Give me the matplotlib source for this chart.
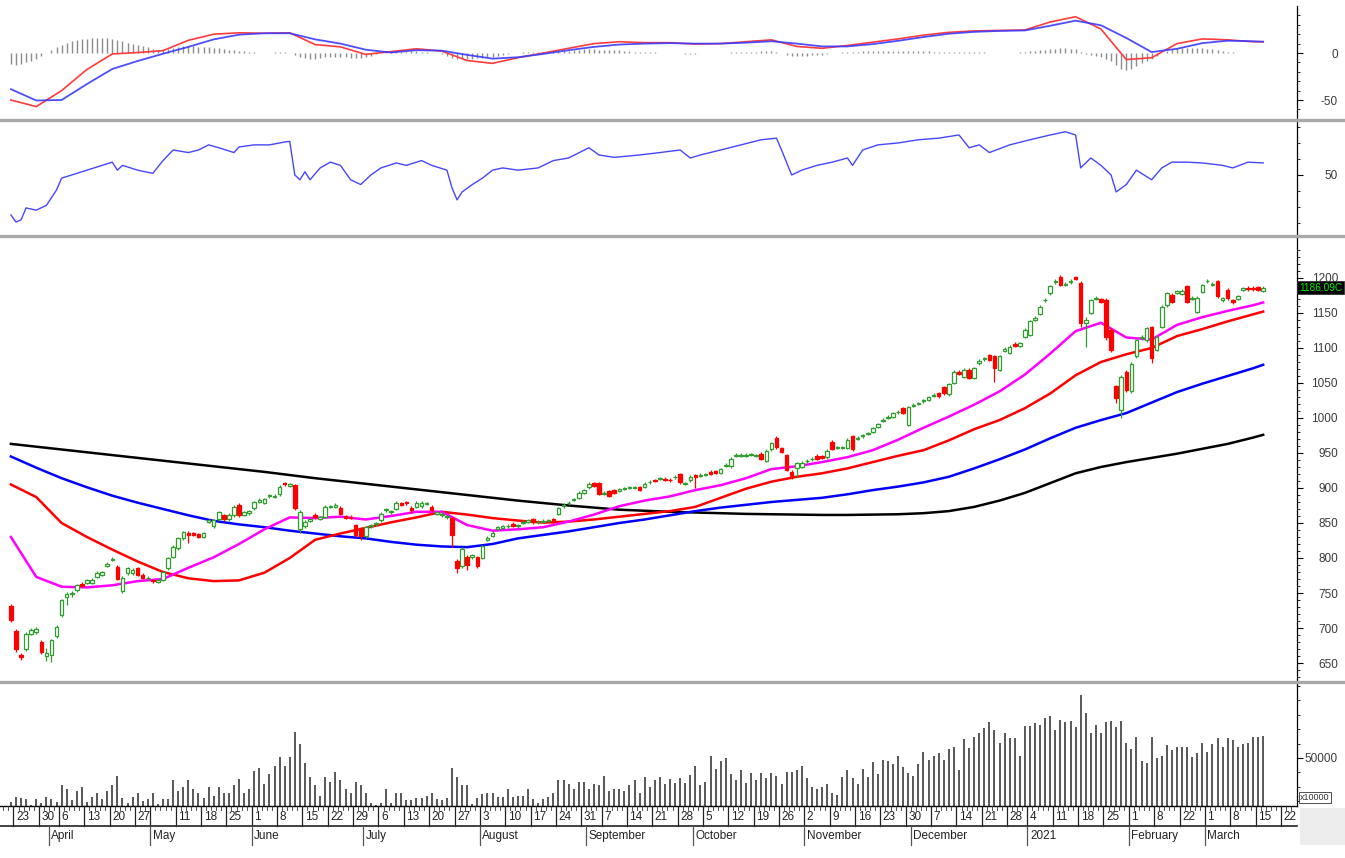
import numpy as np
import pandas as pd
import matplotlib
matplotlib.use("Agg")
import matplotlib.pyplot as plt
from matplotlib.lines import Line2D
from matplotlib.patches import Rectangle
from matplotlib.transforms import blended_transform_factory
from matplotlib import font_manager
from matplotlib.ticker import FixedLocator, FixedFormatter, NullFormatter

avail = {f.name for f in font_manager.fontManager.ttflist}
FAM = [f for f in ['Liberation Sans Narrow', 'Liberation Sans', 'DejaVu Sans'] if f in avail]
plt.rcParams['font.family'] = FAM

# ---------------- calendar ----------------
holidays = ['2020-04-02', '2020-04-30', '2020-05-01', '2020-09-02', '2021-01-01',
            '2021-02-10', '2021-02-11', '2021-02-12', '2021-02-15', '2021-02-16']
cal = pd.bdate_range('2020-03-20', '2021-03-26')
cal = cal[~cal.isin(pd.to_datetime(holidays))]

week_dates = ['2020-03-23', '2020-03-30', '2020-04-06', '2020-04-13', '2020-04-20', '2020-04-27',
              '2020-05-04', '2020-05-11', '2020-05-18', '2020-05-25', '2020-06-01', '2020-06-08',
              '2020-06-15', '2020-06-22', '2020-06-29', '2020-07-06', '2020-07-13', '2020-07-20',
              '2020-07-27', '2020-08-03', '2020-08-10', '2020-08-17', '2020-08-24', '2020-08-31',
              '2020-09-07', '2020-09-14', '2020-09-21', '2020-09-28', '2020-10-05', '2020-10-12',
              '2020-10-19', '2020-10-26', '2020-11-02', '2020-11-09', '2020-11-16', '2020-11-23',
              '2020-11-30', '2020-12-07', '2020-12-14', '2020-12-21', '2020-12-28', '2021-01-04',
              '2021-01-11', '2021-01-18', '2021-01-25', '2021-02-01', '2021-02-08', '2021-02-22',
              '2021-03-01', '2021-03-08', '2021-03-15', '2021-03-22']
week_texts = ['23', '30', '6', '13', '20', '27', '', '11', '18', '25', '1', '8', '15', '22', '29',
              '6', '13', '20', '27', '3', '10', '17', '24', '31', '7', '14', '21', '28', '5', '12',
              '19', '26', '2', '9', '16', '23', '30', '7', '14', '21', '28', '4', '11', '18', '25',
              '1', '8', '22', '1', '8', '15', '22']
month_dates = ['2020-04-01', '2020-05-04', '2020-06-01', '2020-07-01', '2020-08-03', '2020-09-01',
               '2020-10-01', '2020-11-02', '2020-12-01', '2021-01-04', '2021-02-01', '2021-03-01']
month_texts = ['April', 'May', 'June', 'July', 'August', 'September', 'October', 'November',
               'December', '2021', 'February', 'March']

# ---------------- daily OHLC ----------------
opens = [732, 696, 662, 670, 692, 695, 680, 660, 662, 688,
         718, 745, 748, 754, 763, 765, 765, 773, 776, 789,
         797, 787, 753, 778, 778, 785, 776, 771, 768, 766,
         769, 785, 802, 814, 828, 835, 835, 834, 830, 852,
         845, 855, 861, 855, 861, 876, 862, 864, 871, 880,
         879, 888, 887, 891, 907, 903, 904, 842, 845, 853,
         862, 856, 859, 873, 873, 872, 860, 859, 847, 842,
         831, 845, 848, 854, 868, 865, 870, 878, 880, 872,
         873, 874, 877, 873, 863, 861, 858, 857, 796, 788,
         802, 801, 801, 800, 826, 832, 842, 843, 845, 849,
         845, 850, 852, 855, 851, 852, 853, 855, 863, 874,
         878, 883, 886, 893, 901, 907, 907, 892, 895, 897,
         896, 899, 900, 900, 901, 902, 908, 911, 913, 913,
         912, 915, 920, 906, 911, 918, 917, 919, 923, 924,
         922, 932, 931, 946, 946, 946, 947, 946, 949, 939,
         955, 972, 957, 947, 923, 928, 930, 938, 941, 946,
         945, 944, 966, 957, 957, 957, 974, 970, 974, 977,
         980, 987, 996, 1000, 1002, 1008, 1014, 990, 1017, 1020,
         1024, 1026, 1032, 1035, 1044, 1034, 1050, 1066, 1059, 1069,
         1057, 1078, 1084, 1090, 1088, 1069, 1096, 1093, 1106, 1103,
         1116, 1119, 1140, 1149, 1168, 1178, 1194, 1202, 1190, 1194,
         1201, 1193, 1136, 1150, 1170, 1170, 1169, 1126, 1045, 1011,
         1066, 1038, 1088, 1114, 1111, 1130, 1097, 1130, 1161, 1176,
         1179, 1177, 1188, 1170, 1152, 1180, 1195, 1190, 1195, 1168,
         1183, 1168, 1170, 1183, 1186, 1186, 1187, 1182]
closes = [712, 670, 659, 692, 697, 698, 666, 664, 683, 702,
          740, 749, 750, 761, 760, 768, 768, 779, 780, 791,
          798, 770, 772, 785, 783, 776, 772, 772, 767, 768,
          780, 800, 816, 828, 837, 833, 833, 830, 835, 854,
          854, 865, 855, 862, 873, 861, 865, 867, 880, 883,
          884, 890, 889, 902, 905, 905, 872, 866, 852, 855,
          858, 858, 873, 874, 875, 863, 857, 857, 833, 831,
          844, 847, 850, 863, 870, 867, 879, 876, 878, 869,
          879, 879, 878, 868, 865, 863, 860, 833, 786, 813,
          790, 804, 788, 817, 829, 836, 844, 845, 846, 846,
          847, 852, 854, 851, 852, 853, 854, 852, 871, 876,
          879, 884, 893, 897, 906, 903, 892, 893, 889, 893,
          898, 900, 901, 901, 897, 906, 909, 910, 914, 912,
          911, 916, 908, 907, 916, 916, 919, 920, 920, 922,
          927, 933, 942, 947, 947, 947, 948, 947, 942, 953,
          964, 958, 952, 926, 917, 935, 936, 939, 942, 942,
          943, 953, 956, 958, 958, 969, 955, 972, 975, 978,
          985, 991, 997, 1001, 1007, 1009, 1007, 1015, 1019, 1021,
          1025, 1030, 1033, 1031, 1035, 1048, 1066, 1063, 1069, 1057,
          1071, 1082, 1085, 1083, 1071, 1088, 1099, 1102, 1103, 1107,
          1126, 1138, 1143, 1159, 1169, 1188, 1195, 1190, 1191, 1196,
          1199, 1135, 1140, 1168, 1171, 1166, 1116, 1097, 1028, 1059,
          1040, 1077, 1111, 1116, 1128, 1085, 1116, 1159, 1178, 1166,
          1181, 1182, 1166, 1172, 1172, 1190, 1196, 1192, 1174, 1171,
          1171, 1165, 1174, 1185, 1184, 1184, 1183, 1186.09]
highs = [735, 698, 664, 694, 700, 702, 683, 672, 685, 704,
         742, 752, 753, 763, 766, 770, 771, 781, 782, 794,
         802, 790, 775, 787, 785, 787, 778, 774, 770, 770,
         782, 802, 818, 830, 839, 838, 837, 836, 837, 856,
         856, 867, 863, 864, 875, 878, 867, 869, 882, 885,
         886, 892, 891, 904, 909, 907, 906, 868, 854, 857,
         864, 860, 875, 876, 878, 874, 862, 861, 849, 844,
         846, 849, 852, 865, 872, 869, 881, 880, 882, 874,
         881, 881, 880, 875, 867, 865, 862, 859, 798, 815,
         804, 806, 803, 819, 831, 838, 846, 847, 848, 851,
         849, 854, 856, 857, 854, 855, 856, 857, 873, 878,
         881, 886, 895, 899, 908, 909, 909, 895, 897, 899,
         900, 902, 903, 903, 903, 908, 911, 913, 916, 915,
         914, 918, 922, 909, 918, 920, 921, 922, 925, 926,
         929, 935, 944, 950, 950, 950, 950, 949, 951, 955,
         966, 974, 959, 949, 925, 937, 938, 941, 944, 948,
         947, 955, 968, 960, 960, 971, 976, 974, 977, 980,
         987, 993, 1000, 1004, 1009, 1011, 1016, 1017, 1021, 1023,
         1027, 1032, 1035, 1037, 1046, 1050, 1068, 1068, 1071, 1071,
         1073, 1084, 1087, 1092, 1090, 1090, 1101, 1104, 1108, 1109,
         1128, 1140, 1146, 1161, 1171, 1190, 1198, 1204, 1194, 1198,
         1203, 1196, 1144, 1170, 1174, 1172, 1171, 1128, 1047, 1062,
         1069, 1080, 1113, 1118, 1130, 1132, 1118, 1161, 1180, 1178,
         1183, 1184, 1190, 1174, 1174, 1192, 1199, 1194, 1197, 1173,
         1185, 1170, 1176, 1187, 1188, 1188, 1189, 1188]
lows = [708, 666, 654, 667, 690, 692, 663, 653, 652, 686,
        716, 733, 745, 752, 758, 763, 763, 771, 774, 787,
        795, 768, 750, 776, 776, 774, 770, 769, 765, 764,
        767, 783, 800, 812, 826, 822, 831, 828, 828, 850,
        843, 853, 853, 853, 859, 859, 860, 862, 869, 878,
        877, 886, 885, 889, 903, 901, 868, 836, 843, 851,
        856, 854, 857, 871, 871, 861, 855, 855, 830, 826,
        829, 843, 846, 852, 866, 863, 868, 874, 876, 864,
        871, 872, 875, 866, 861, 859, 856, 816, 779, 786,
        783, 799, 786, 798, 824, 830, 840, 841, 843, 844,
        843, 848, 850, 849, 849, 850, 851, 850, 861, 872,
        876, 881, 884, 891, 899, 901, 890, 890, 887, 891,
        894, 897, 898, 898, 895, 900, 906, 908, 911, 910,
        909, 913, 906, 904, 909, 900, 915, 917, 918, 920,
        920, 930, 929, 944, 944, 944, 945, 944, 940, 937,
        953, 956, 950, 924, 913, 916, 928, 936, 939, 940,
        941, 942, 954, 955, 955, 955, 953, 968, 972, 975,
        978, 985, 994, 998, 1000, 1006, 1005, 988, 1015, 1018,
        1022, 1024, 1030, 1029, 1033, 1032, 1048, 1061, 1057, 1055,
        1055, 1076, 1082, 1081, 1052, 1067, 1094, 1091, 1101, 1101,
        1114, 1117, 1138, 1147, 1166, 1176, 1192, 1188, 1188, 1192,
        1197, 1130, 1102, 1148, 1168, 1164, 1112, 1094, 1022, 1000,
        1037, 1036, 1086, 1112, 1109, 1078, 1095, 1128, 1159, 1164,
        1177, 1175, 1164, 1168, 1150, 1178, 1193, 1188, 1172, 1166,
        1169, 1163, 1168, 1181, 1182, 1182, 1181, 1180]

# volume (x10000)
volume = [4500, 9000, 8000, 7000, 1000, 7000, 3500, 9700, 7000, 4500,
          21500, 17400, 6250, 15600, 19400, 4500, 9700, 13200, 7000, 16000,
          21500, 31250, 8700, 2800, 9700, 13200, 5000, 7300, 13200, 2000,
          7000, 7000, 26700, 15600, 19400, 26700, 17400, 13900, 8700, 19400,
          10400, 20100, 13900, 13900, 21500, 28500, 13200, 18000, 36500, 40000,
          23300, 33300, 41700, 50700, 41700, 50700, 77400, 64600, 45100, 30600,
          21500, 10400, 30600, 25400, 35800, 26700, 17400, 13900, 25400, 21500,
          13200, 2800, 1000, 2800, 18000, 2800, 13900, 13200, 6250, 6250,
          8000, 8000, 10400, 13200, 7000, 6250, 8000, 39600, 30600, 21500,
          21500, 2000, 8000, 12200, 13200, 13900, 9700, 9700, 17400, 9700,
          10400, 10400, 17400, 7000, 3500, 7000, 9700, 13900, 27100, 26700,
          23300, 17400, 25400, 25400, 17400, 23300, 22200, 31600, 15600, 18000,
          18000, 15600, 22200, 27100, 13900, 30600, 20100, 27100, 30600, 22900,
          28100, 24300, 28800, 24300, 32300, 41700, 21500, 25400, 52100, 38200,
          47200, 50300, 33300, 27100, 37500, 24300, 34000, 27300, 34000, 28800,
          34000, 31250, 22900, 35400, 35800, 37500, 41700, 28800, 20100, 17400,
          20100, 22900, 13900, 11500, 30600, 37500, 28800, 22900, 38200, 30600,
          46200, 33300, 47900, 47200, 43700, 52100, 40300, 34000, 31250, 43400,
          56600, 47900, 52100, 55600, 47900, 59000, 61800, 37500, 69500, 59900,
          72200, 75700, 80900, 87800, 79200, 65300, 75700, 70500, 70500, 52100,
          83300, 83300, 86100, 84400, 91300, 93800, 79200, 89600, 87800, 88900,
          82600, 115600, 97200, 76400, 84400, 76400, 87800, 88900, 82200, 88900,
          65300, 59000, 72200, 46900, 44400, 72200, 49700, 52100, 63500, 58300,
          61800, 61800, 61800, 50700, 54900, 65300, 56600, 64600, 71200, 61800,
          71200, 68800, 61800, 64600, 65300, 72200, 71500, 72900]

# ---------------- moving averages (every 5 sessions) ----------------
ma_idx = list(range(0, 246, 5)) + [247]
ma20 = [830, 773, 759, 758, 761, 767, 770, 786, 801, 820,
        841, 858, 857, 859, 855, 860, 866, 866, 847, 839,
        841, 844, 852, 862, 874, 882, 888, 897, 904, 914,
        927, 931, 937, 944, 954, 969, 986, 1002, 1019, 1038,
        1062, 1092, 1124, 1136, 1115, 1112, 1133, 1144, 1153, 1161, 1165]
ma50 = [905, 887, 850, 830, 812, 795, 780, 771, 767, 768,
        779, 800, 826, 835, 843, 851, 858, 866, 862, 857,
        853.5, 850.5, 852, 855, 859, 863, 867, 873, 886, 899,
        909, 916, 921, 928, 937, 946, 954, 968, 984, 997,
        1014, 1035, 1061, 1080, 1091, 1100, 1117, 1127, 1138, 1148, 1152]
ma100 = [945, 929, 914, 901, 889, 879, 870, 861, 853, 848,
         844, 839, 835, 831, 828, 823, 819, 816.5, 815.5, 820,
         828, 833, 838, 844, 850, 855, 861, 867, 872, 876,
         880, 883, 886, 891, 897, 902, 908, 916, 928, 941,
         955, 971, 986, 997, 1007, 1022, 1037, 1049, 1060, 1071, 1076]
ma200 = [963, 959, 955, 951, 947, 943, 939, 935, 931, 927,
         923, 918.5, 914, 910, 906, 902, 898, 894, 890, 886,
         882, 878.5, 875, 872, 869, 867.5, 866, 865, 864, 863,
         862.5, 862, 861.5, 861.5, 862, 862.5, 864, 867, 873, 882,
         893, 907, 921, 930, 937, 943, 949, 956, 963, 972, 976]

# ---------------- MACD ----------------
macd_line = [-50, -57, -40, -17.5, -1, 0.5, 2.5, 13.5, 20, 21.5,
             21, 21.5, 9, 6.5, -1.5, 1.5, 4.5, 2, -8, -11,
             -5, 0, 5, 10, 12, 11, 11, 9.5, 10, 12,
             14, 7, 5, 8, 11.5, 15, 19, 22, 23.5, 24,
             24.5, 33, 38.6, 25.5, -7, -5, 10, 15, 14, 12, 12]
macd_signal = [-38.5, -50.5, -50, -33, -17, -8.5, -0.8, 6.5, 14.5, 19.5,
               21, 21, 14.5, 10, 3.5, 0.5, 3, 2.5, -2, -6,
               -4.5, -1, 3, 6.5, 9, 10, 10.5, 10, 10, 11,
               12.5, 10, 7, 7, 9.5, 13, 17, 20.5, 22.5, 23.5,
               24, 29, 34.4, 29.5, 16, 1, 4.5, 10.5, 13.1, 12.5, 12]
macd_hist = [-12, -13, -12, -10, -8, -6, -3, 0, 3, 6,
             9, 11, 13, 14, 15, 15, 16, 16, 16, 16,
             15, 14, 13, 11, 10, 9, 7, 6, 4, 3,
             3, 4, 5, 6, 7, 7, 7, 6, 6, 6,
             5, 5, 4, 3, 3, 2, 2, 1, 1, 0,
             0, 0, 1, 1, 1, 0, -2, -4, -5, -6,
             -6, -5, -4, -4, -4, -4, -4, -5, -5, -5,
             -4, -3, -1, 0, 1, 1, 1, 1, 1, 2,
             2, 1, 1, 0, 0, -1, -3, -5, -6, -6,
             -6, -6, -5, -5, -4, -4, -3, -2, -1, 0,
             0, 1, 1, 1, 1, 1, 1, 2, 2, 2,
             2, 3, 3, 4, 4, 4, 3, 3, 3, 3,
             3, 2, 2, 1, 1, 1, 1, 1, 0, 0,
             0, 0, 0, -1, -1, -1, 0, 0, 0, 0,
             0, 0, 1, 1, 1, 1, 1, 1, 2, 2,
             2, 1, 0, -2, -3, -3, -3, -3, -2, -2,
             -2, -1, 0, 0, 1, 1, 1, 1, 2, 2,
             2, 2, 2, 2, 2, 2, 2, 2, 2, 2,
             2, 2, 1, 1, 1, 1, 1, 1, 1, 1,
             1, 1, 1, 0, 0, 0, 0, 0, 0, 1,
             1, 2, 2, 3, 3, 4, 4, 5, 5, 4,
             4, 1, -1, -2, -3, -4, -6, -9, -13, -17,
             -18, -17, -14, -11, -8, -6, -3, 0, 2, 4,
             5, 5, 5, 5, 5, 5, 4, 4, 3, 2,
             1, 1, 0, 0, 0, 0, 0, 0]

# ---------------- RSI ----------------
rsi_idx = [0, 1, 2, 3, 5, 7, 9, 10, 12, 14, 16, 18, 20, 21, 22, 25, 28, 30, 32, 35,
           37, 39, 41, 44, 45, 48, 51, 54, 55, 56, 57, 58, 59, 61, 63, 65, 67, 69, 71, 73,
           76, 78, 81, 83, 86, 87, 88, 89, 91, 93, 95, 97, 100, 104, 107, 110, 114, 116, 119, 124,
           128, 132, 134, 136, 140, 144, 148, 151, 152, 154, 156, 159, 162, 165, 166, 168, 171, 175, 179, 183,
           187, 189, 191, 193, 197, 201, 205, 208, 210, 211, 213, 215, 217, 218, 220, 222, 225, 227, 229, 232,
           235, 239, 241, 244, 247]
rsi_val = [25, 20.6, 21.9, 29.4, 28, 31, 40.6, 48, 50, 52, 54, 56, 58, 53, 56, 53, 51, 59, 65.6, 64,
           65.6, 68.8, 67, 64, 67.5, 68.8, 68.8, 70.6, 71, 50, 47, 52, 47, 54.4, 58, 56, 47, 44, 50, 54.4,
           57.5, 56, 59, 56, 53, 42, 34.4, 39.4, 44, 48, 53, 54.4, 53, 54.4, 59, 60.6, 67, 62.5, 61, 62.5,
           64, 65.6, 60.6, 62.5, 65.6, 68.8, 72, 73, 65.6, 50, 53, 56, 58, 60.6, 56, 65.6, 68.8, 70, 72, 73,
           75, 67, 68.8, 64, 68.8, 72, 75, 77, 75, 54.4, 60.6, 56, 50, 39.4, 44, 53, 47, 54.4, 58, 58,
           57.5, 56, 54.4, 58, 57.5]

# ---------------- figure ----------------
W_PX, H_PX = 1345, 858
fig = plt.figure(figsize=(W_PX / 100, H_PX / 100), dpi=100)
fig.patch.set_facecolor('white')


def fy(py):
    return 1 - py / H_PX


AXW = 1297 / W_PX
ax_macd = fig.add_axes([0, fy(119), AXW, 113 / H_PX])
ax_rsi = fig.add_axes([0, fy(234), AXW, 112 / H_PX])
ax_p = fig.add_axes([0, fy(681), AXW, 443 / H_PX])
ax_v = fig.add_axes([0, fy(806), AXW, 122 / H_PX])

XMIN, XMAX = -2.15, 253.67
idx = np.arange(len(closes))
o = np.array(opens, float)
c = np.array(closes, float)
h = np.array(highs, float)
l = np.array(lows, float)

GREEN = '#2e9e2e'
RED = '#ff0000'

# price panel
ax_p.plot(ma_idx, ma200, color='black', lw=1.8, zorder=2, solid_joinstyle='round')
ax_p.plot(ma_idx, ma100, color='#0000ff', lw=1.8, zorder=2, solid_joinstyle='round')
ax_p.plot(ma_idx, ma50, color='#ff0000', lw=1.8, zorder=2, solid_joinstyle='round')
ax_p.plot(ma_idx, ma20, color='#ff00ff', lw=1.8, zorder=2, solid_joinstyle='round')

up = c >= o
wick_col = np.where(up, GREEN, RED)
ax_p.vlines(idx, l, h, colors=wick_col, lw=0.9, zorder=3)
blo = np.minimum(o, c)
bh = np.maximum(np.abs(c - o), 1.0)
ax_p.bar(idx[up], bh[up], bottom=blo[up], width=0.7, facecolor='white',
         edgecolor=GREEN, linewidth=0.9, zorder=4)
ax_p.bar(idx[~up], bh[~up], bottom=blo[~up], width=0.7, facecolor=RED,
         edgecolor=RED, linewidth=0.9, zorder=4)

# volume
ax_v.vlines(idx, 0, volume, color='#4a4a4a', lw=1.3)

# MACD
ax_macd.vlines(idx, 0, macd_hist, color='#8c8c8c', lw=1.0)
ax_macd.plot(ma_idx, macd_line, color='#ff3b3b', lw=1.2)
ax_macd.plot(ma_idx, macd_signal, color='#3b3bff', lw=1.3, alpha=0.9)

# RSI
ax_rsi.plot(rsi_idx, rsi_val, color='#4646ff', lw=1.0)


def style(ax, ylim, majors, labels, minors):
    ax.set_xlim(XMIN, XMAX)
    ax.set_ylim(*ylim)
    ax.set_facecolor('white')
    for s in ['left', 'top', 'bottom']:
        ax.spines[s].set_visible(False)
    ax.spines['right'].set_color('black')
    ax.spines['right'].set_linewidth(0.9)
    ax.set_xticks([])
    ax.yaxis.tick_right()
    ax.yaxis.set_major_locator(FixedLocator(majors))
    ax.yaxis.set_major_formatter(FixedFormatter(labels))
    ax.yaxis.set_minor_locator(FixedLocator(minors))
    ax.yaxis.set_minor_formatter(NullFormatter())
    ax.tick_params(axis='y', which='major', direction='out', length=4.5, width=0.8,
                   color='black', labelcolor='#3a3a3a', labelsize=8.5, pad=25)
    ax.tick_params(axis='y', which='minor', direction='out', length=2.2, width=0.6, color='black')
    for t in ax.get_yticklabels():
        t.set_horizontalalignment('right')


p_major = list(range(650, 1201, 50))
style(ax_p, (624.3, 1257.1), p_major, [str(v) for v in p_major],
      [v for v in range(630, 1251, 10) if v % 50])
style(ax_macd, (-70.2, 50), [-50, 0], ['-50', '0'],
      [v for v in range(-70, 51, 10) if v % 50])
style(ax_rsi, (13.1, 83.1), [50], ['50'], [20, 30, 40, 60, 70, 80])
style(ax_v, (0, 127083), [50000], ['50000'],
      [5000, 20000, 35000, 65000, 80000, 95000, 110000, 125000])
ax_v.spines['bottom'].set_visible(True)
ax_v.spines['bottom'].set_color('black')
ax_v.spines['bottom'].set_linewidth(1.0)

# last price box
T2 = blended_transform_factory(fig.transFigure, ax_p.transData)
ax_p.text(1299 / W_PX, closes[-1], '1186.09C', transform=T2, ha='left', va='center',
          fontsize=7.3, color='#00ee00', clip_on=False, zorder=20,
          bbox=dict(boxstyle='square,pad=0.15', fc='black', ec='#333333', lw=0.6))

# panel separators
for py in (120, 236, 682):
    fig.add_artist(Line2D([0, 1], [fy(py), fy(py)], transform=fig.transFigure,
                          color='#a9a9a9', lw=2.4))

# x axis (dates)
T = blended_transform_factory(ax_v.transData, fig.transFigure)
for i in range(-2, 254):
    fig.add_artist(Line2D([i - 0.5, i - 0.5], [fy(806), fy(809.5)], transform=T,
                          color='#333333', lw=0.6))
for d, txt in zip(week_dates, week_texts):
    p = cal.get_loc(pd.Timestamp(d)) - 0.5
    fig.add_artist(Line2D([p, p], [fy(806), fy(826)], transform=T, color='#222222', lw=0.9))
    if txt:
        fig.text(p + 0.5, fy(817), txt, transform=T, ha='left', va='center',
                 fontsize=8.5, color='#222222')
fig.add_artist(Line2D([0, AXW], [fy(826), fy(826)], transform=fig.transFigure,
                      color='#222222', lw=1.2))
for d, txt in zip(month_dates, month_texts):
    p = cal.get_loc(pd.Timestamp(d)) - 0.5
    fig.add_artist(Line2D([p, p], [fy(826), fy(845)], transform=T, color='#555555', lw=0.9))
    fig.text(p + 0.5, fy(836), txt, transform=T, ha='left', va='center',
             fontsize=8.5, color='#222222')

# bottom right grey box and unit label
fig.add_artist(Rectangle((1300 / W_PX, fy(845)), 45 / W_PX, 37 / H_PX,
                         transform=fig.transFigure, facecolor='#ededed', edgecolor='none'))
fig.text(1300 / W_PX, fy(797.5), 'x10000', ha='left', va='center', fontsize=6.5,
         color='#333333', bbox=dict(boxstyle='square,pad=0.15', fc='white', ec='#333333', lw=0.6))

fig.savefig('out.png', dpi=100, facecolor='white')
